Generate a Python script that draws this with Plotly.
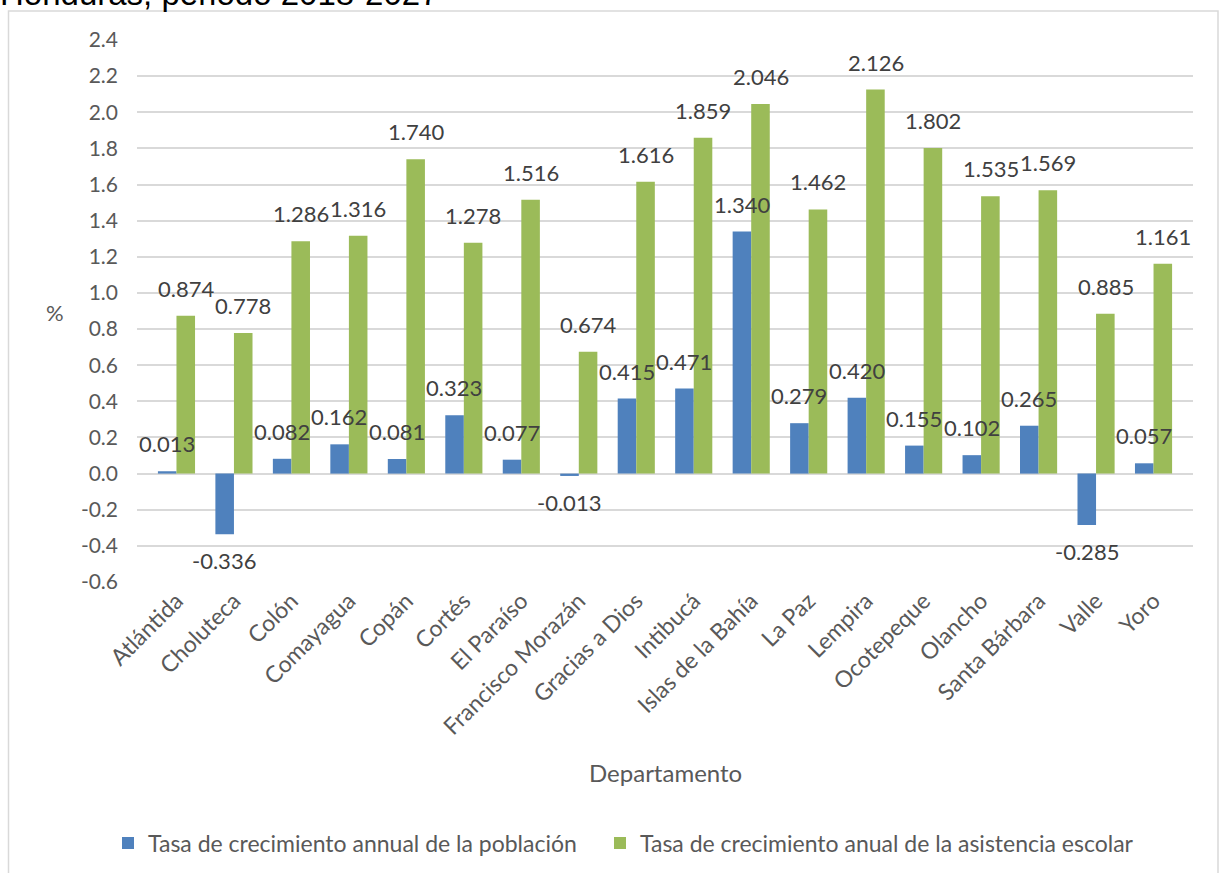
import plotly.graph_objects as go

departamentos = ["Atlántida", "Choluteca", "Colón", "Comayagua", "Copán", "Cortés", "El Paraíso",
                 "Francisco Morazán", "Gracias a Dios", "Intibucá", "Islas de la Bahía", "La Paz",
                 "Lempira", "Ocotepeque", "Olancho", "Santa Bárbara", "Valle", "Yoro"]
poblacion = [0.013, -0.336, 0.082, 0.162, 0.081, 0.323, 0.077, -0.013, 0.415, 0.471, 1.340,
             0.279, 0.420, 0.155, 0.102, 0.265, -0.285, 0.057]
asistencia = [0.874, 0.778, 1.286, 1.316, 1.740, 1.278, 1.516, 0.674, 1.616, 1.859, 2.046,
              1.462, 2.126, 1.802, 1.535, 1.569, 0.885, 1.161]
y_ticks = [-0.6, -0.4, -0.2, 0.0, 0.2, 0.4, 0.6, 0.8, 1.0, 1.2, 1.4, 1.6, 1.8, 2.0, 2.2, 2.4]
name_pob = "Tasa de crecimiento annual de la población"
name_asi = "Tasa de crecimiento anual de la asistencia escolar"
title_text = "Honduras, periodo 2018-2027"

FONT = "Lato"
GREY = "#595959"
LABEL = "#404040"
W, H = 1220, 873
L, R, T, B = 137, 27, 40, 291
pw, ph = W - L - R, H - T - B
n = len(departamentos)
cat_w = pw / n
bargap = 0.354
half_bar_px = cat_w * (1 - bargap) / 4  # centre of each bar from category centre


def px2x(px):
    return (px - L) / pw


def py2y(py):
    return (H - B - py) / ph


fig = go.Figure()
fig.add_trace(go.Bar(x=departamentos, y=poblacion, name=name_pob, marker_color="#4F81BD",
                     marker_line_width=0, legend="legend"))
fig.add_trace(go.Bar(x=departamentos, y=asistencia, name=name_asi, marker_color="#9BBB59",
                     marker_line_width=0, legend="legend2"))

annotations = []
for series, sign in ((poblacion, -1), (asistencia, 1)):
    for cat, v in zip(departamentos, series):
        pos = v >= 0
        annotations.append(dict(
            x=cat, y=v, xref="x", yref="y", text=f"{v:.3f}", showarrow=False,
            xshift=sign * half_bar_px, yanchor="bottom" if pos else "top",
            yshift=12 if pos else -11,
            font=dict(family=FONT, size=22, color=LABEL),
        ))

annotations += [
    dict(text="%", xref="paper", yref="paper", x=px2x(55), y=py2y(312),
         xanchor="center", yanchor="middle",
         showarrow=False, font=dict(family=FONT, size=22, color=GREY)),
    dict(text="Departamento", xref="paper", yref="paper", x=px2x(665), y=py2y(772),
         xanchor="center", yanchor="middle",
         showarrow=False, font=dict(family=FONT, size=24, color=GREY)),
    dict(text=title_text, xref="paper", yref="paper", x=px2x(-2), xanchor="left",
         y=py2y(14), yanchor="bottom", showarrow=False,
         font=dict(family="Liberation Sans", size=33, color="#000000")),
]

legend_common = dict(orientation="h", xanchor="left", yanchor="middle", y=py2y(843),
                     font=dict(family=FONT, size=23, color=GREY), itemwidth=30,
                     bgcolor="rgba(0,0,0,0)", borderwidth=0)

fig.update_layout(
    width=W, height=H,
    margin=dict(l=L, r=R, t=T, b=B, autoexpand=False),
    paper_bgcolor="white", plot_bgcolor="white",
    barmode="group", bargap=bargap, bargroupgap=0,
    font=dict(family=FONT, color=GREY),
    showlegend=True,
    legend=dict(x=px2x(108), **legend_common),
    legend2=dict(x=px2x(600), **legend_common),
    xaxis=dict(tickangle=-45, tickfont=dict(family=FONT, size=23, color=GREY),
               showgrid=False, showline=False, ticks=""),
    yaxis=dict(range=[-0.6, 2.4], tickvals=y_ticks, ticktext=[f"{v:.1f}" for v in y_ticks],
               tickfont=dict(family=FONT, size=21, color=GREY),
               showgrid=True, gridcolor="#D9D9D9", gridwidth=1.5,
               zeroline=True, zerolinecolor="#D9D9D9", zerolinewidth=1.5,
               showline=False, ticks="", ticklabelstandoff=18),
    annotations=annotations,
    shapes=[
        dict(type="rect", xref="paper", yref="paper", x0=px2x(8.5), x1=px2x(1218),
             y0=py2y(900), y1=py2y(11), line=dict(color="#D9D9D9", width=1.5),
             fillcolor="rgba(0,0,0,0)", layer="below"),
    ],
)

fig.write_html("out.html", config={"displayModeBar": False},
               post_script="document.body.style.margin='0';document.body.style.overflow='hidden';")
